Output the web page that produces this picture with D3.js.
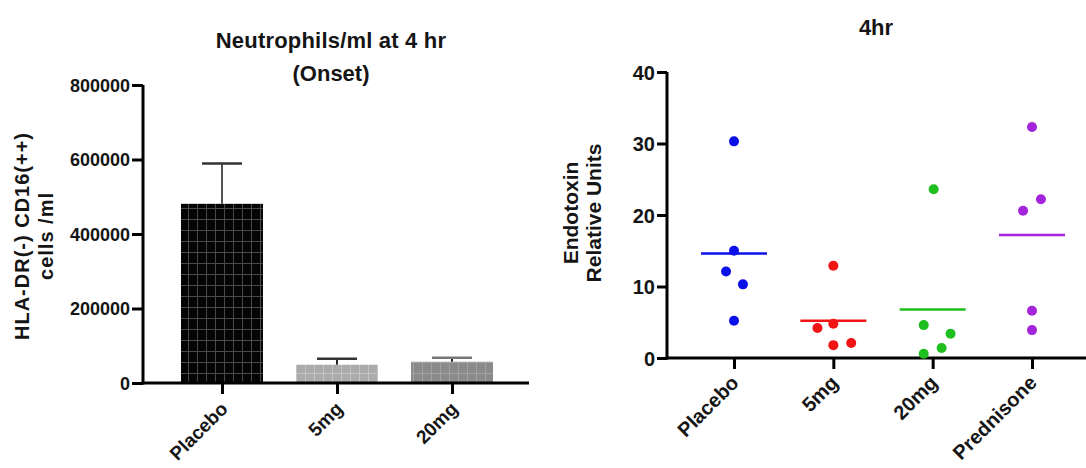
<!DOCTYPE html>
<html lang="en">
  <head>
    <meta charset="utf-8"/>
    <title>Neutrophils and Endotoxin at 4 hr</title>
    <script src="https://d3js.org/d3.v7.min.js"></script>
    <style>
      body { margin: 0; background: #fff; }
      svg text { font-family: "Liberation Sans", Arial, sans-serif; font-weight: bold; fill: #151515; }
    </style>
  </head>
  <body>
    <div id="chart"></div>

    <script type="text/javascript">
     // left panel: bar chart, mean + error
     let barGroups = ["Placebo", "5mg", "20mg"],
         barMeans = [481000, 49000, 57000],
         barErrors = [589000, 65000, 68000],
         barTicks = [0, 200000, 400000, 600000, 800000];

     // right panel: scatter with mean line
     let dotGroups = ["Placebo", "5mg", "20mg", "Prednisone"],
         dotValues = [
             [30.3, 15.0, 12.1, 10.3, 5.2],
             [12.9, 4.2, 4.8, 1.8, 2.1],
             [23.6, 4.6, 3.4, 1.4, 0.6],
             [32.3, 22.2, 20.6, 6.6, 3.9]
         ],
         dotJitter = [
             [0, 0, -0.08, 0.09, 0],
             [0, -0.16, 0, 0, 0.18],
             [0.01, -0.09, 0.18, 0.09, -0.09],
             [0, 0.09, -0.09, 0, 0]
         ],
         dotMeans = [14.6, 5.2, 6.8, 17.2],
         dotTicks = [0, 10, 20, 30, 40];

     let dotColors = ["#0b10e8", "#f01414", "#1fbf1f", "#a424dc"],
         barFills = ["#050505", "#ababab", "#8a8a8a"],
         barGrid = ["#4a4a4a", "#c4c4c4", "#a2a2a2"];

     let svg = d3.select("#chart")
                 .append("svg")
                 .attr("width", 1086)
                 .attr("height", 468);

     // grid patterns for the bars
     let defs = svg.append("defs");
     barGroups.forEach((g, i) => {
         let p = defs.append("pattern")
                     .attr("id", `grid${i}`)
                     .attr("patternUnits", "userSpaceOnUse")
                     .attr("width", 9)
                     .attr("height", 11);
         p.append("rect").attr("width", 9).attr("height", 11).attr("fill", barFills[i]);
         p.append("path")
          .attr("d", "M8.5,0V11M0,10.5H9")
          .attr("stroke", barGrid[i])
          .attr("stroke-width", 1)
          .attr("fill", "none");
     });

     function styleAxis(g) {
         g.selectAll("path.domain").remove();
         g.selectAll(".tick line")
          .attr("stroke", "#000")
          .attr("stroke-width", 3);
     }

     // ---------- left panel ----------
     function Bars() {
         let axisX = 143, axisY = 383;

         let y = d3.scaleLinear()
                   .domain([0, 800000])
                   .range([axisY, 85]);

         let x = d3.scalePoint()
                   .domain(barGroups)
                   .range([222, 452]);

         let bw = 82;

         let g = svg.append("g");

         // error bars (upper only)
         g.selectAll("line.err")
          .data(barGroups)
          .join("line")
          .attr("x1", d => x(d))
          .attr("x2", d => x(d))
          .attr("y1", (d, i) => y(barMeans[i]))
          .attr("y2", (d, i) => y(barErrors[i]))
          .attr("stroke", (d, i) => i == 0 ? "#555" : "#222")
          .attr("stroke-width", 2);

         g.selectAll("line.cap")
          .data(barGroups)
          .join("line")
          .attr("x1", d => x(d) - 20)
          .attr("x2", d => x(d) + 20)
          .attr("y1", (d, i) => y(barErrors[i]))
          .attr("y2", (d, i) => y(barErrors[i]))
          .attr("stroke", (d, i) => i == 2 ? "#777" : "#333")
          .attr("stroke-width", 2.5);

         g.selectAll("rect.bar")
          .data(barGroups)
          .join("rect")
          .attr("class", "bar")
          .attr("x", d => x(d) - bw / 2)
          .attr("width", bw)
          .attr("y", (d, i) => y(barMeans[i]))
          .attr("height", (d, i) => axisY - y(barMeans[i]))
          .attr("fill", (d, i) => `url(#grid${i})`);

         // y axis
         let yAxis = d3.axisLeft(y)
                       .tickValues(barTicks)
                       .tickFormat(d3.format("d"))
                       .tickSize(11)
                       .tickPadding(2);

         svg.append("g")
            .attr("transform", `translate(${axisX}, 0)`)
            .call(yAxis)
            .call(styleAxis)
            .selectAll("text")
            .attr("font-size", 18)
            .attr("dy", "0.36em");

         svg.append("line")
            .attr("x1", axisX).attr("x2", axisX)
            .attr("y1", y(800000)).attr("y2", axisY + 1.5)
            .attr("stroke", "#000").attr("stroke-width", 3);

         // x axis
         let xAxis = d3.axisBottom(x).tickSize(11).tickFormat("");
         svg.append("g")
            .attr("transform", `translate(0, ${axisY})`)
            .call(xAxis)
            .call(styleAxis);

         svg.append("line")
            .attr("x1", axisX - 1.5).attr("x2", 529)
            .attr("y1", axisY).attr("y2", axisY)
            .attr("stroke", "#000").attr("stroke-width", 3);

         svg.selectAll("text.xlab-left")
            .data(barGroups)
            .join("text")
            .attr("class", "xlab-left")
            .attr("text-anchor", "end")
            .attr("font-size", 19)
            .attr("transform", d => `translate(${x(d) + 7}, ${axisY + 27}) rotate(-45)`)
            .text(d => d);

         // titles
         svg.append("text")
            .attr("x", 331).attr("y", 48)
            .attr("text-anchor", "middle")
            .attr("font-size", 22)
            .attr("letter-spacing", 0.2)
            .text("Neutrophils/ml at 4 hr");

         svg.append("text")
            .attr("x", 331).attr("y", 81)
            .attr("text-anchor", "middle")
            .attr("font-size", 22)
            .text("(Onset)");

         let yl = svg.append("text")
                     .attr("transform", "translate(0, 236) rotate(-90)")
                     .attr("text-anchor", "middle")
                     .attr("font-size", 20)
                     .attr("letter-spacing", 1);
         yl.append("tspan").attr("x", 0).attr("y", 29).text("HLA-DR(-) CD16(++)");
         yl.append("tspan").attr("x", 0).attr("y", 53).text("cells /ml");
     }

     // ---------- right panel ----------
     function Dots() {
         let axisX = 667, axisY = 358;

         let y = d3.scaleLinear()
                   .domain([0, 40])
                   .range([axisY, 72]);

         let xi = d3.scaleLinear()
                    .domain([0, dotGroups.length - 1])
                    .range([734, 1032]);

         let x = d3.scalePoint()
                   .domain(dotGroups)
                   .range([734, 1032]);

         // y axis
         let yAxis = d3.axisLeft(y)
                       .tickValues(dotTicks)
                       .tickSize(10)
                       .tickPadding(2);

         svg.append("g")
            .attr("transform", `translate(${axisX}, 0)`)
            .call(yAxis)
            .call(styleAxis)
            .selectAll("text")
            .attr("font-size", 20)
            .attr("dy", "0.36em");

         svg.append("line")
            .attr("x1", axisX).attr("x2", axisX)
            .attr("y1", y(40)).attr("y2", axisY + 1.5)
            .attr("stroke", "#000").attr("stroke-width", 3);

         let xAxis = d3.axisBottom(x).tickSize(11).tickFormat("");
         svg.append("g")
            .attr("transform", `translate(0, ${axisY})`)
            .call(xAxis)
            .call(styleAxis);

         svg.append("line")
            .attr("x1", axisX - 1.5).attr("x2", 1086)
            .attr("y1", axisY).attr("y2", axisY)
            .attr("stroke", "#000").attr("stroke-width", 3);

         svg.selectAll("text.xlab-right")
            .data(dotGroups)
            .join("text")
            .attr("class", "xlab-right")
            .attr("text-anchor", "end")
            .attr("font-size", 20)
            .attr("transform", d => `translate(${x(d) + 6}, ${axisY + 26}) rotate(-45)`)
            .text(d => d);

         // mean lines
         svg.selectAll("line.mean")
            .data(dotMeans)
            .join("line")
            .attr("class", "mean")
            .attr("x1", (d, i) => xi(i) - 33)
            .attr("x2", (d, i) => xi(i) + 33)
            .attr("y1", d => y(d))
            .attr("y2", d => y(d))
            .attr("stroke", (d, i) => dotColors[i])
            .attr("stroke-width", 2.5);

         // points
         let pts = [];
         dotValues.forEach((vals, i) => {
             vals.forEach((v, j) => pts.push({g: i, v: v, j: dotJitter[i][j]}));
         });

         svg.selectAll("circle.pt")
            .data(pts)
            .join("circle")
            .attr("class", "pt")
            .attr("cx", d => xi(d.g + d.j))
            .attr("cy", d => y(d.v))
            .attr("r", 5)
            .attr("fill", d => dotColors[d.g]);

         svg.append("text")
            .attr("x", 876).attr("y", 35)
            .attr("text-anchor", "middle")
            .attr("font-size", 22)
            .text("4hr");

         let yl = svg.append("text")
                     .attr("transform", "translate(0, 213) rotate(-90)")
                     .attr("text-anchor", "middle")
                     .attr("font-size", 21);
         yl.append("tspan").attr("x", 0).attr("y", 578).text("Endotoxin");
         yl.append("tspan").attr("x", 0).attr("y", 601).text("Relative Units");
     }

     Bars();
     Dots();
    </script>
  </body>
</html>
